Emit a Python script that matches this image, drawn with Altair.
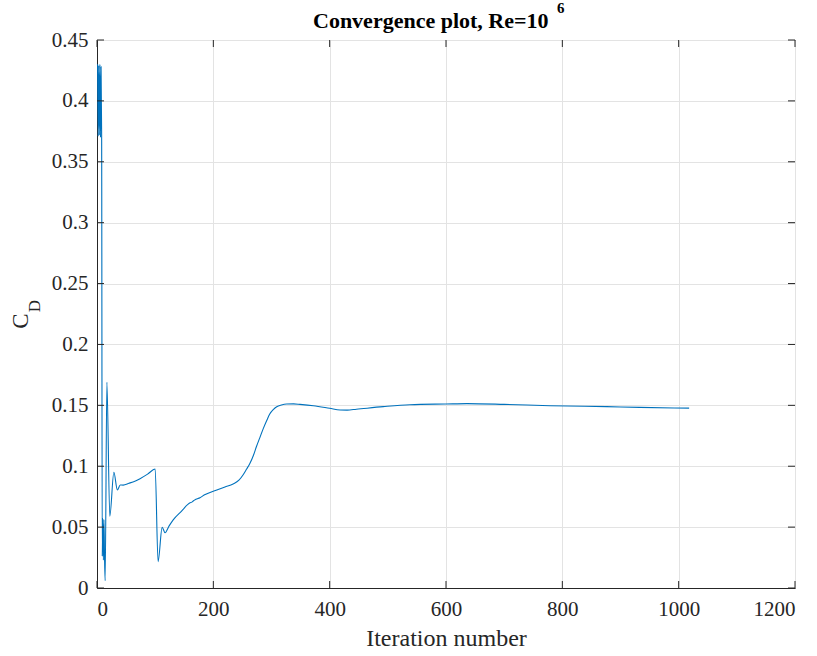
import altair as alt
import pandas as pd

# ---- data ----
iterations = [1, 2, 3, 4, 5, 6, 7, 8, 9, 10, 11, 12, 13, 14, 17, 22, 29, 35, 40, 45,
              55, 63, 74, 87, 100, 105, 112, 117, 124, 131, 145, 160, 163, 166, 170,
              177, 185, 206, 220, 234, 244, 251, 257, 263, 269, 274, 280, 286, 292,
              297, 303, 309, 317, 326, 338, 349, 372, 400, 418, 430, 446, 492, 538,
              600, 636, 700, 779, 876, 933, 1018]
cd_values = [0.43, 0.371, 0.429, 0.372, 0.43, 0.37, 0.428, 0.371, 0.026, 0.057, 0.023,
             0.056, 0.024, 0.006, 0.169, 0.059, 0.095, 0.0805, 0.0846, 0.0845,
             0.086, 0.0873, 0.0898, 0.0935, 0.0977, 0.0216, 0.0498, 0.0454, 0.051,
             0.056, 0.063, 0.070, 0.0705, 0.0717, 0.0728,
             0.0742, 0.0765, 0.0805, 0.083, 0.0854, 0.0885, 0.0928, 0.0975, 0.1024,
             0.109, 0.116, 0.1235, 0.1311, 0.1378, 0.1429, 0.1465, 0.1489, 0.1503,
             0.1511, 0.1512, 0.1508, 0.1497, 0.1476, 0.1462, 0.1461, 0.1468, 0.1489,
             0.1505, 0.1511, 0.1514, 0.1508, 0.1497, 0.1489, 0.1483, 0.1477]
x_ticks = [0, 200, 400, 600, 800, 1000, 1200]
y_ticks = [0, 0.05, 0.1, 0.15, 0.2, 0.25, 0.3, 0.35, 0.4, 0.45]

title_main = "Convergence plot, Re=10"
title_sup = "6"
x_title = "Iteration number"
y_title_main = "C"
y_title_sub = "D"

W, H = 698, 548
FONT = "Liberation Serif"
AX = "#262626"

df = pd.DataFrame({"iter": iterations, "cd": cd_values})
dfx = pd.DataFrame({"xt": x_ticks})
dfy = pd.DataFrame({"yt": y_ticks})

xscale = alt.Scale(domain=[0, 1200], nice=False, zero=False)
yscale = alt.Scale(domain=[0, 0.45], nice=False, zero=False)

line = alt.Chart(df).mark_line(color="#0072BD", strokeWidth=1.1, clip=True,
                               interpolate="monotone").encode(
    x=alt.X("iter:Q", scale=xscale,
            axis=alt.Axis(values=x_ticks, title=x_title, format="d",
                          grid=True, ticks=False, labelPadding=10,
                          titlePadding=7)),
    y=alt.Y("cd:Q", scale=yscale,
            axis=alt.Axis(values=y_ticks, title=None, format="~g",
                          grid=True, ticks=False, labelPadding=9)),
)

tick_len = 7
left_ticks = alt.Chart(dfy).mark_rule(color=AX, strokeWidth=1).encode(
    y=alt.Y("yt:Q", scale=yscale), x=alt.value(0), x2=alt.value(tick_len))
right_ticks = alt.Chart(dfy).mark_rule(color=AX, strokeWidth=1).encode(
    y=alt.Y("yt:Q", scale=yscale), x=alt.value(W - tick_len), x2=alt.value(W))
bottom_ticks = alt.Chart(dfx).mark_rule(color=AX, strokeWidth=1).encode(
    x=alt.X("xt:Q", scale=xscale), y=alt.value(H - tick_len), y2=alt.value(H))
top_ticks = alt.Chart(dfx).mark_rule(color=AX, strokeWidth=1).encode(
    x=alt.X("xt:Q", scale=xscale), y=alt.value(0), y2=alt.value(tick_len))

tdf = pd.DataFrame({"t": [title_main]})
title_txt = alt.Chart(tdf).mark_text(font=FONT, fontSize=22, fontWeight="bold",
                                     align="left", baseline="alphabetic",
                                     color="#000000").encode(
    text="t:N", x=alt.value(216), y=alt.value(-12))
sdf = pd.DataFrame({"t": [title_sup]})
sup_txt = alt.Chart(sdf).mark_text(font=FONT, fontSize=15, fontWeight="bold",
                                   align="left", baseline="alphabetic",
                                   color="#000000").encode(
    text="t:N", x=alt.value(460), y=alt.value(-27))

cdf = pd.DataFrame({"t": [y_title_main]})
c_txt = alt.Chart(cdf).mark_text(font=FONT, fontSize=23, angle=270, align="center",
                                 baseline="middle", color="#262626").encode(
    text="t:N", x=alt.value(-76), y=alt.value(281))
ddf = pd.DataFrame({"t": [y_title_sub]})
d_txt = alt.Chart(ddf).mark_text(font=FONT, fontSize=17, angle=270, align="center",
                                 baseline="middle", color="#262626").encode(
    text="t:N", x=alt.value(-62), y=alt.value(266))

chart = alt.layer(line, left_ticks, right_ticks, bottom_ticks, top_ticks,
                  title_txt, sup_txt, c_txt, d_txt).properties(
    width=W, height=H,
    padding={"left": 97, "top": 40, "right": 22, "bottom": 68},
    autosize=alt.AutoSizeParams(type="none"),
    background="#ffffff",
).configure_view(stroke=AX, strokeWidth=1).configure_axis(
    labelFont=FONT, labelFontSize=21, labelColor="#262626",
    titleFont=FONT, titleFontSize=24, titleColor="#262626", titleFontWeight="normal",
    domainColor=AX, domainWidth=1, gridColor="#e3e3e3", gridWidth=1,
)

chart.save("out.html", embed_options={"renderer": "svg", "actions": False})
